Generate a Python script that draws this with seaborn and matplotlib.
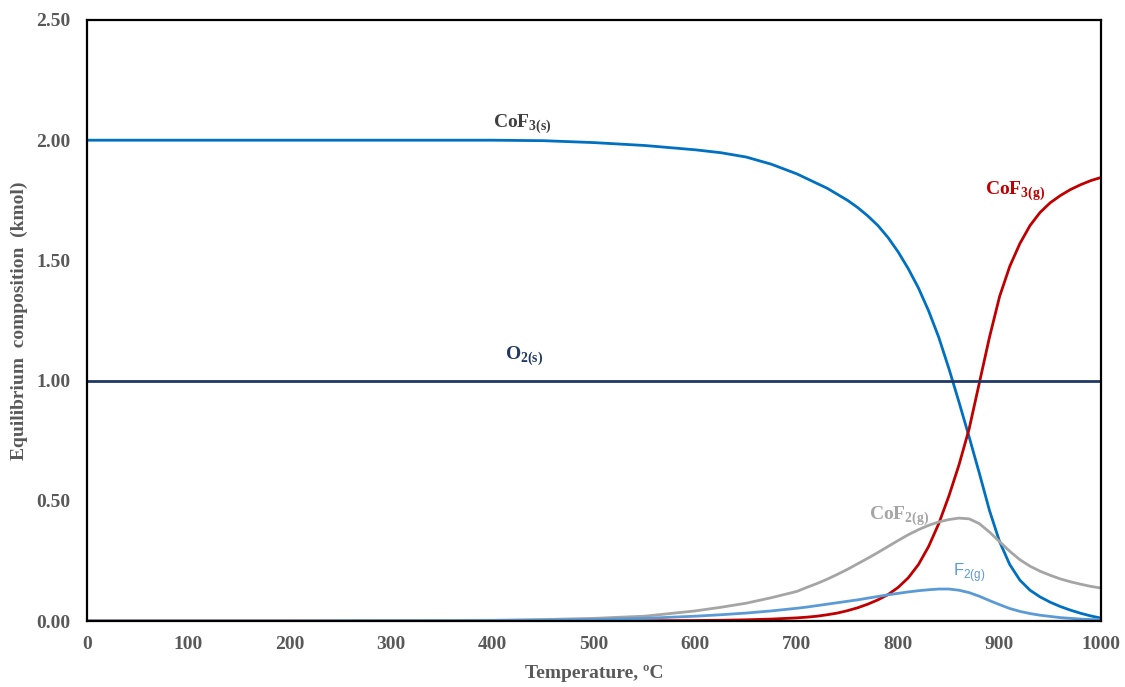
import numpy as np
import pandas as pd
import matplotlib
matplotlib.use("Agg")
import matplotlib.pyplot as plt
import seaborn as sns

# ---- data ----
temperature = [0, 100, 200, 300, 350, 400, 450, 500, 550, 600, 625, 650, 675,
               700, 710, 720, 730, 740, 750, 760, 770, 780, 790, 800, 810, 820, 830, 840, 850,
               860, 870, 880, 890, 900, 910, 920, 930, 940, 950, 960, 970, 980, 990, 1000]
cof3_s = [2.0, 2.0, 2.0, 2.0, 2.0, 2.0, 1.998, 1.99, 1.978, 1.96, 1.948, 1.93, 1.90,
          1.86, 1.84, 1.82, 1.80, 1.775, 1.75, 1.72, 1.685, 1.645, 1.595, 1.535, 1.465, 1.385, 1.29,
          1.18, 1.05, 0.91, 0.765, 0.615, 0.46, 0.33, 0.235, 0.17, 0.128, 0.10, 0.078, 0.06,
          0.045, 0.032, 0.021, 0.012]
cof3_g = [0.0, 0.0, 0.0, 0.0, 0.0, 0.0, 0.0, 0.0, 0.001, 0.002, 0.003, 0.005, 0.008,
          0.013, 0.016, 0.02, 0.026, 0.033, 0.043, 0.055, 0.07, 0.088, 0.11, 0.14, 0.18, 0.235, 0.31,
          0.405, 0.52, 0.65, 0.80, 0.99, 1.18, 1.35, 1.475, 1.57, 1.645, 1.70, 1.74, 1.77,
          1.795, 1.815, 1.832, 1.845]
o2_s = [1.0] * len(temperature)
cof2_g = [0.0, 0.0, 0.0, 0.001, 0.002, 0.003, 0.006, 0.011, 0.02, 0.042, 0.057, 0.074, 0.097,
          0.123, 0.14, 0.156, 0.174, 0.194, 0.215, 0.238, 0.261, 0.285, 0.31, 0.335, 0.359, 0.38,
          0.398, 0.412, 0.422, 0.428, 0.425, 0.405, 0.37, 0.33, 0.29, 0.255, 0.228, 0.207, 0.19,
          0.175, 0.163, 0.153, 0.144, 0.137]
f2_g = [0.0, 0.0, 0.0, 0.001, 0.001, 0.002, 0.004, 0.006, 0.011, 0.02, 0.026, 0.033, 0.042,
        0.053, 0.058, 0.064, 0.07, 0.076, 0.082, 0.088, 0.095, 0.102, 0.109, 0.115, 0.121, 0.126,
        0.13, 0.133, 0.133, 0.128, 0.118, 0.103, 0.085, 0.068, 0.052, 0.04, 0.031, 0.024, 0.019,
        0.014, 0.011, 0.008, 0.006, 0.005]

series_names = ["CoF3(s)", "CoF3(g)", "O2(s)", "CoF2(g)", "F2(g)"]
series_values = [cof3_s, cof3_g, o2_s, cof2_g, f2_g]
colors = {"CoF3(s)": "#0070C0", "CoF3(g)": "#C00000", "O2(s)": "#1F3864",
          "CoF2(g)": "#A5A5A5", "F2(g)": "#5B9BD5"}

x_ticks = [0, 100, 200, 300, 400, 500, 600, 700, 800, 900, 1000]
y_ticks = [0.0, 0.5, 1.0, 1.5, 2.0, 2.5]

df = pd.concat([pd.DataFrame({"T": temperature, "v": vals, "s": name})
                for name, vals in zip(series_names, series_values)], ignore_index=True)

sns.set_theme(style="white")
plt.rcParams['font.family'] = ['Liberation Serif', 'DejaVu Serif']
plt.rcParams['mathtext.fontset'] = 'custom'
plt.rcParams['mathtext.rm'] = 'Liberation Serif'
plt.rcParams['mathtext.bf'] = 'Liberation Serif:bold'
plt.rcParams['mathtext.sf'] = 'Liberation Sans'

fig = plt.figure(figsize=(11.25, 6.87), dpi=100)
ax = fig.add_axes([87/1125, 1-621/687, (1101-87)/1125, (621-20)/687])

sns.lineplot(data=df, x="T", y="v", hue="s", palette=colors, hue_order=series_names,
             linewidth=2.0, legend=False, ax=ax, sort=True)

ax.set_xlim(0, 1000)
ax.set_ylim(0, 2.5)
ax.set_xticks(x_ticks)
ax.set_yticks(y_ticks)
ax.set_yticklabels([f"{t:.2f}" for t in y_ticks])
tick_color = "#595959"
ax.tick_params(axis="both", length=0, labelsize=14, colors=tick_color)
ax.tick_params(axis="x", pad=11)
ax.tick_params(axis="y", pad=12)
for lab in ax.get_xticklabels() + ax.get_yticklabels():
    lab.set_fontweight("bold")
for sp in ax.spines.values():
    sp.set_color("black")
    sp.set_linewidth(1.6)
    sp.set_visible(True)

ax.set_xlabel("Temperature, \u00baC", fontsize=14, fontweight="bold", color=tick_color)
ax.xaxis.set_label_coords(0.5, -0.074)
ax.set_ylabel("Equilibrium  composition  (kmol)", fontsize=14, fontweight="bold",
              color=tick_color)
ax.yaxis.set_label_coords(-0.058, 0.5)

# series labels
ax.text(400, 2.065, r"CoF$_{\mathbf{3(s)}}$", color="#404040", fontsize=14, fontweight="bold",
        va="center", ha="left")
ax.text(412, 1.10, r"O$_{\mathbf{2(s)}}$", color="#1F3864", fontsize=14, fontweight="bold",
        va="center", ha="left")
ax.text(886, 1.786, r"CoF$_{\mathbf{3(g)}}$", color="#C00000", fontsize=14, fontweight="bold",
        va="center", ha="left")
ax.text(771, 0.437, r"CoF$_{\mathbf{2(g)}}$", color="#A5A5A5", fontsize=14, fontweight="bold",
        va="center", ha="left")
ax.text(854, 0.20, r"F$_{\mathsf{2(g)}}$", color="#5B9BD5", fontsize=12, va="center", ha="left",
        family=["Liberation Sans", "DejaVu Sans"])

fig.savefig("out.png", dpi=100)
